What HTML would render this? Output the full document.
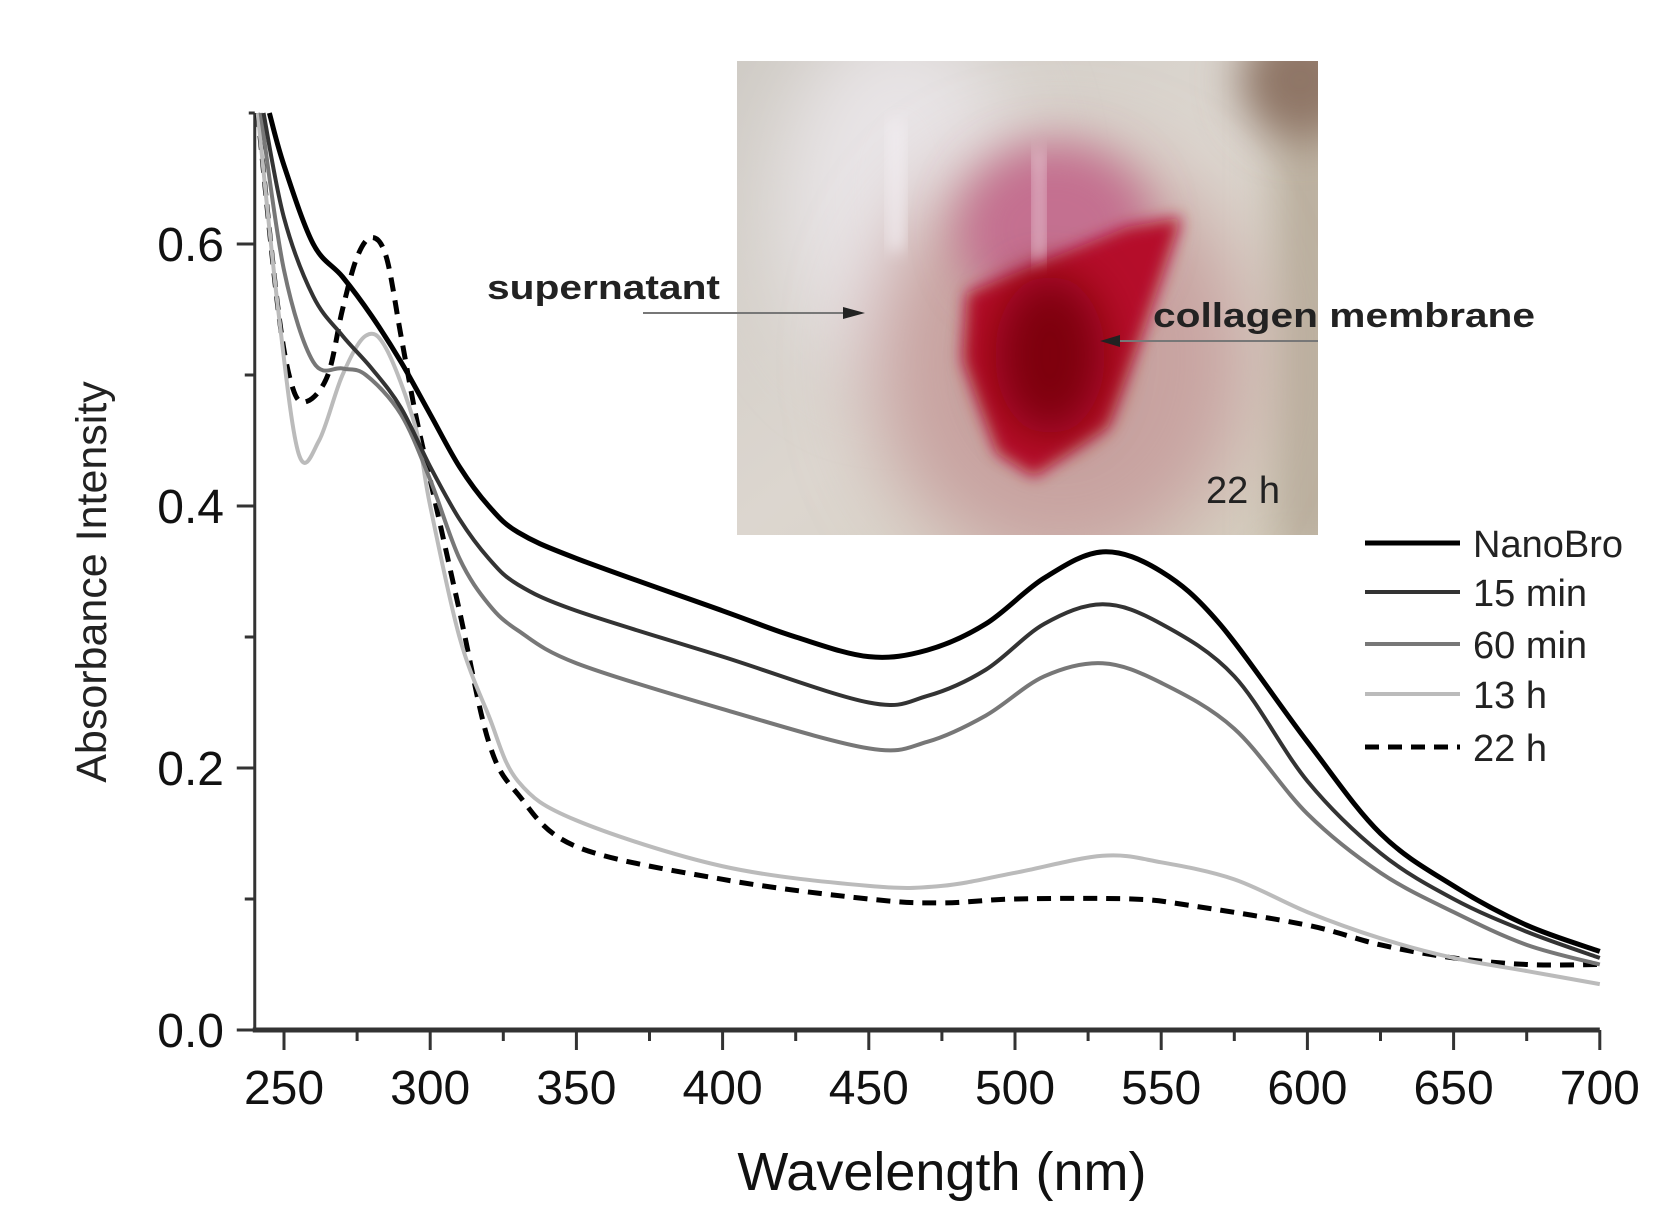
<!DOCTYPE html>
<html><head><meta charset="utf-8"><style>
html,body{margin:0;padding:0;background:#fff;}
svg{display:block;font-family:"Liberation Sans",sans-serif;}
</style></head><body>
<svg id="chart" width="1667" height="1225" viewBox="0 0 1667 1225" xmlns="http://www.w3.org/2000/svg">
<defs>
<filter id="blur8" x="-50%" y="-50%" width="200%" height="200%"><feGaussianBlur stdDeviation="8"/></filter>
<filter id="blur20" x="-100%" y="-100%" width="300%" height="300%"><feGaussianBlur stdDeviation="22"/></filter>
<filter id="blur40" x="-100%" y="-100%" width="300%" height="300%"><feGaussianBlur stdDeviation="40"/></filter>
<clipPath id="photoClip"><rect x="737" y="61" width="581" height="474"/></clipPath>
<linearGradient id="bgGrad" x1="0" y1="0" x2="1" y2="1">
<stop offset="0" stop-color="#cfcbc5"/><stop offset="0.5" stop-color="#dcd6cf"/><stop offset="1" stop-color="#d4cdbd"/>
</linearGradient>
</defs>
<g id="photo" clip-path="url(#photoClip)">
<rect x="737" y="61" width="581" height="474" fill="url(#bgGrad)"/>
<rect x="1275" y="40" width="70" height="520" fill="#b9ad9c" filter="url(#blur20)"/>
<ellipse cx="1300" cy="80" rx="60" ry="60" fill="#8f7666" filter="url(#blur20)"/>
<ellipse cx="900" cy="200" rx="120" ry="180" fill="#e8e4e6" filter="url(#blur40)"/>
<ellipse cx="1060" cy="360" rx="190" ry="210" fill="#c8a3a0" filter="url(#blur40)"/>
<ellipse cx="1055" cy="230" rx="95" ry="85" fill="#c47090" filter="url(#blur20)"/>
<polygon points="967,293 1127,227 1182,217 1145,327 1108,427 1034,477 997,453 963,360" fill="#b5102a" filter="url(#blur8)"/>
<ellipse cx="1050" cy="355" rx="55" ry="80" fill="#7e0010" filter="url(#blur20)"/>
<rect x="890" y="120" width="12" height="130" fill="#f3eef2" filter="url(#blur8)"/>
<rect x="1035" y="150" width="8" height="110" fill="#f0dbe3" filter="url(#blur8)"/>
</g>
<g>
<text x="487" y="299" font-size="34" font-weight="bold" fill="#222" textLength="233" lengthAdjust="spacingAndGlyphs">supernatant</text>
<line x1="643" y1="313" x2="850" y2="313" stroke="#777" stroke-width="2"/>
<polygon points="865,313 843,307 843,319" fill="#222"/>
<text x="1153" y="327" font-size="34" font-weight="bold" fill="#222" textLength="382" lengthAdjust="spacingAndGlyphs">collagen membrane</text>
<line x1="1318" y1="341" x2="1112" y2="341" stroke="#777" stroke-width="2"/>
<polygon points="1100,341 1120,335 1120,347" fill="#222"/>
<text x="1206" y="503" font-size="38" fill="#222">22 h</text>
</g>
<g id="axes"></g>
<g id="series"></g>
<g id="legend"></g>
</svg>
<script>
const xTicks = [250,300,350,400,450,500,550,600,650,700];
const yTicks = [0.0,0.2,0.4,0.6];
const yTickLabels = ["0.0","0.2","0.4","0.6"];
const seriesNames = ["NanoBro","15 min","60 min","13 h","22 h"];
const wlNano = [245,250,260,270,280,290,300,310,320,330,350,400,425,450,470,490,510,530,550,570,600,625,650,675,700];
const absNano = [0.70,0.66,0.60,0.575,0.545,0.51,0.47,0.43,0.40,0.38,0.36,0.32,0.30,0.285,0.29,0.31,0.345,0.365,0.35,0.31,0.22,0.15,0.11,0.08,0.06];
const wl15 = [243,250,260,270,280,290,300,310,320,330,350,400,450,470,490,510,530,550,575,600,625,650,675,700];
const abs15 = [0.70,0.62,0.56,0.53,0.505,0.475,0.43,0.39,0.36,0.34,0.32,0.285,0.25,0.255,0.275,0.31,0.325,0.31,0.27,0.19,0.135,0.10,0.075,0.055];
const wl60 = [242,250,260,270,278,290,300,310,320,330,350,400,450,470,490,510,530,550,575,600,625,650,675,700];
const abs60 = [0.70,0.58,0.51,0.505,0.50,0.47,0.42,0.36,0.325,0.305,0.28,0.245,0.215,0.22,0.24,0.27,0.28,0.265,0.23,0.165,0.12,0.09,0.065,0.05];
const wl13 = [241,248,255,262,270,278,285,295,300,310,320,330,350,400,450,475,500,530,550,575,600,625,650,675,700];
const abs13 = [0.70,0.55,0.44,0.45,0.50,0.53,0.52,0.46,0.40,0.30,0.24,0.19,0.16,0.125,0.11,0.11,0.12,0.133,0.128,0.115,0.09,0.07,0.055,0.045,0.035];
const wl22 = [241,248,253,258,265,270,275,280,285,290,295,300,310,320,330,350,400,450,475,500,540,560,600,625,650,675,700];
const abs22 = [0.70,0.55,0.49,0.48,0.50,0.55,0.59,0.605,0.59,0.53,0.47,0.42,0.32,0.22,0.18,0.14,0.115,0.10,0.097,0.10,0.10,0.095,0.08,0.065,0.055,0.05,0.05];

const NS="http://www.w3.org/2000/svg";
function X(w){return 284+(w-250)*2.924;}
function Y(v){return 1030-v*1310;}
function mk(tag,attrs,parent){const e=document.createElementNS(NS,tag);for(const k in attrs)e.setAttribute(k,attrs[k]);parent.appendChild(e);return e;}
const axes=document.getElementById('axes');
const xAxis=mk('line',{x1:X(240)-2,y1:Y(0),x2:X(700),y2:Y(0),stroke:'#333','stroke-width':5},axes);


const yAxis=mk('line',{x1:X(240),y1:Y(0.70),x2:X(240),y2:Y(0),stroke:'#333','stroke-width':3},axes);


for(let w=250;w<=700;w+=25){
  const major=(w%50===0);
  const t=mk('line',{x1:X(w),y1:Y(0),x2:X(w),y2:Y(0)+(major?20:11),stroke:'#333','stroke-width':3},axes);
  
  
}
xTicks.forEach(w=>{
  const t=mk('text',{x:X(w),y:1104,'font-size':48,'text-anchor':'middle',fill:'#111'},axes);
  t.textContent=w;
  
  
});
for(let i=0;i<=7;i++){
  const v=i*0.1;const major=(i%2===0);
  if(i===7){mk('line',{x1:X(240)-6,y1:Y(0.70),x2:X(240),y2:Y(0.70),stroke:'#333','stroke-width':3},axes);continue;}
  const t=mk('line',{x1:X(240)-(major?18:10),y1:Y(v),x2:X(240),y2:Y(v),stroke:'#333','stroke-width':3},axes);
  
  
}
yTicks.forEach((v,i)=>{
  const t=mk('text',{x:224,y:Y(v)+17,'font-size':48,'text-anchor':'end',fill:'#111'},axes);
  t.textContent=yTickLabels[i];
  
  
});
const xt=mk('text',{x:X(475),y:1190,'font-size':54,'text-anchor':'middle',fill:'#111'},axes);
xt.textContent='Wavelength (nm)';


const yt=mk('text',{x:0,y:0,'font-size':43,'text-anchor':'middle',fill:'#222',transform:'translate(106,582) rotate(-90)'},axes);
yt.textContent='Absorbance Intensity';



const styles=[
 {c:'#000',w:5,d:null},{c:'#333',w:4,d:null},{c:'#777',w:4,d:null},{c:'#bbb',w:4,d:null},{c:'#000',w:5,d:'14,9'}];
const xs=[wlNano,wl15,wl60,wl13,wl22], ys=[absNano,abs15,abs60,abs13,abs22];
const keys=['nanobro','15-min','60-min','13-h','22-h'];
const sg=document.getElementById('series');
function smoothPath(px,py){
  let d='M'+px[0]+','+py[0];
  for(let i=0;i<px.length-1;i++){
    const x0=px[Math.max(0,i-1)],y0=py[Math.max(0,i-1)],x1=px[i],y1=py[i],x2=px[i+1],y2=py[i+1],x3=px[Math.min(px.length-1,i+2)],y3=py[Math.min(px.length-1,i+2)];
    d+=' C'+(x1+(x2-x0)/6)+','+(y1+(y2-y0)/6)+' '+(x2-(x3-x1)/6)+','+(y2-(y3-y1)/6)+' '+x2+','+y2;
  }
  return d;
}
[4,3,2,1,0].forEach(i=>{
  const px=xs[i].map(X), py=ys[i].map(Y);
  const p=mk('path',{d:smoothPath(px,py),fill:'none',stroke:styles[i].c,'stroke-width':styles[i].w,'stroke-linejoin':'round'},sg);
  if(styles[i].d)p.setAttribute('stroke-dasharray',styles[i].d);
  
  
});
const lg=document.getElementById('legend');
const legY=[543,592,644,694,747];
seriesNames.forEach((n,i)=>{
  const l=mk('line',{x1:1365,y1:legY[i],x2:1460,y2:legY[i],stroke:styles[i].c,'stroke-width':styles[i].w},lg);
  if(styles[i].d)l.setAttribute('stroke-dasharray','14,9');
  
  
  const t=mk('text',{x:1473,y:legY[i]+14,'font-size':38,fill:'#222'},lg);
  t.textContent=n;
  
  
});
</script>
</body></html>
